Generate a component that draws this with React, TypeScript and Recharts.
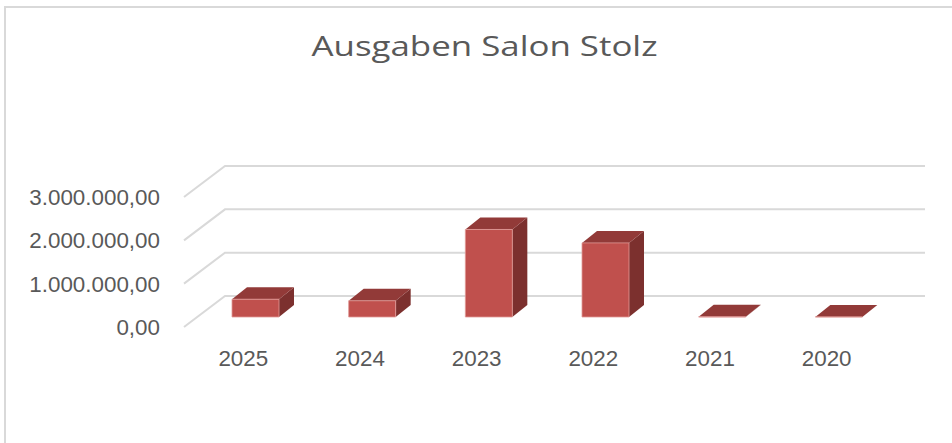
import React from "react";
import { BarChart, Bar, XAxis, YAxis, CartesianGrid } from "recharts";

const YEARS = ["2025", "2024", "2023", "2022", "2021", "2020"];
const AUSGABEN = [410000, 375000, 2020000, 1710000, 3000, 2000];
const Y_TICKS = [0, 1000000, 2000000, 3000000];

const TEXT_COLOR = "#595959";
const GRID_COLOR = "#d9d9d9";
const FONT = "'Liberation Sans', Arial, sans-serif";

// 3D offsets (px) - back wall vs. bar front plane, and bar depth
const WALL_DX = 28;
const WALL_DY = 21;
const FLOOR_DX = 13;
const FLOOR_DY = 10;
const BAR_DX = 15;
const BAR_DY = 12;

const data = YEARS.map((year, i) => ({ year, ausgaben: AUSGABEN[i] }));

// German number format: 3.000.000,00
const formatDE = (v: number) => {
  const [int, dec] = v.toFixed(2).split(".");
  return int.replace(/\B(?=(\d{3})+(?!\d))/g, ".") + "," + dec;
};

const GridLine = (props: any) => {
  const { x1, x2, y1, index } = props;
  const d = `M${x1 - FLOOR_DX},${y1 + FLOOR_DY} L${x1 + WALL_DX},${y1 - WALL_DY} L${x2 + WALL_DX},${y1 - WALL_DY}`;
  return (
    <path key={`g-${index}`} d={d} fill="none" stroke={GRID_COLOR} strokeWidth={2} />
  );
};

const Bar3D = (props: any) => {
  const { x, y, width, height } = props;
  const front = `M${x},${y} h${width} v${height} h${-width} Z`;
  const top = `M${x},${y} L${x + width},${y} L${x + width + BAR_DX},${y - BAR_DY} L${x + BAR_DX},${y - BAR_DY} Z`;
  const side = `M${x + width},${y} L${x + width + BAR_DX},${y - BAR_DY} L${x + width + BAR_DX},${y + height - BAR_DY} L${x + width},${y + height} Z`;
  return (
    <g>
      <path d={side} fill="#7c302e" />
      <path d={top} fill="#923a38" />
      <path d={front} fill="#c0504d" stroke="#e19a98" strokeWidth={0.8} />
    </g>
  );
};

const YTick = (props: any) => {
  const { x, y, payload } = props;
  return (
    <text x={x - 37} y={y + 18} textAnchor="end" fontSize={22.4} fill={TEXT_COLOR} fontFamily={FONT}>
      {formatDE(payload.value)}
    </text>
  );
};

const XTick = (props: any) => {
  const { x, y, payload } = props;
  return (
    <text x={x - 12} y={y + 49} textAnchor="middle" fontSize={22.4} fill={TEXT_COLOR} fontFamily={FONT}>
      {payload.value}
    </text>
  );
};

export default function App() {
  return (
    <div
      style={{
        position: "absolute",
        left: 0,
        top: 0,
        width: 952,
        height: 443,
        overflow: "hidden",
        background: "#fff",
      }}
    >
      <div style={{ position: "absolute", left: 0, top: 0 }}>
        <BarChart
          width={952}
          height={443}
          data={data}
          margin={{ top: 187, right: 55, bottom: 86, left: 137 }}
          barCategoryGap="30%"
        >
          <CartesianGrid vertical={false} horizontal={GridLine} />
          <XAxis
            dataKey="year"
            axisLine={false}
            tickLine={false}
            tickSize={0}
            tickMargin={0}
            height={40}
            tick={XTick}
            interval={0}
          />
          <YAxis
            domain={[0, 3000000]}
            ticks={Y_TICKS}
            axisLine={false}
            tickLine={false}
            tickSize={0}
            tickMargin={0}
            width={60}
            tick={YTick}
          />
          <Bar dataKey="ausgaben" shape={Bar3D} isAnimationActive={false} />
        </BarChart>
      </div>
      <svg
        width={952}
        height={443}
        style={{ position: "absolute", left: 0, top: 0, pointerEvents: "none" }}
      >
        <path d="M5,443 L5,7 L952,7" fill="none" stroke={GRID_COLOR} strokeWidth={2} />
        <text
          x={484.5}
          y={56}
          textAnchor="middle"
          fontSize={27}
          fill={TEXT_COLOR}
          fontFamily="'Open Sans', sans-serif"
          textLength={346}
          lengthAdjust="spacingAndGlyphs"
        >
          Ausgaben Salon Stolz
        </text>
      </svg>
    </div>
  );
}
